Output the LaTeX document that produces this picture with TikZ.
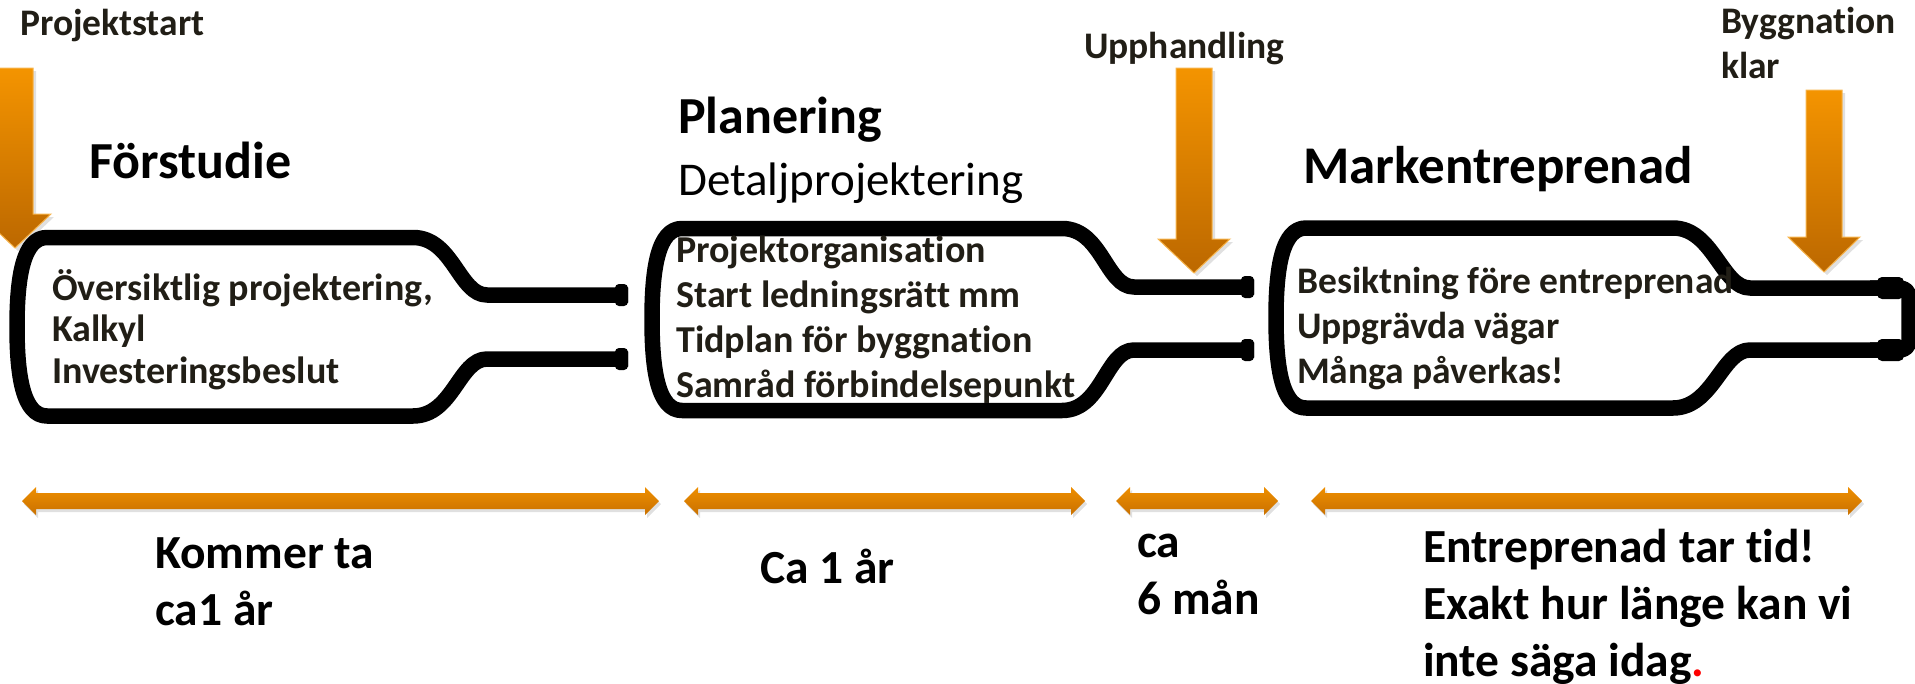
\documentclass[tikz,border=0pt]{standalone}
\usepackage{fontspec}
\setmainfont{Carlito}[Ligatures=NoCommon]

\definecolor{arrowtop}{RGB}{244,148,0}
\definecolor{arrowbot}{RGB}{188,104,0}
\definecolor{bartop}{RGB}{238,142,0}
\definecolor{barbot}{RGB}{201,113,0}
\definecolor{inktext}{RGB}{33,30,22}

\tikzset{
  bottleline/.style={line width=15.5pt, line join=round, draw=black},
  toplabel/.style={anchor=base west, inner sep=0pt, align=left, text=inktext,
    font=\fontsize{37.5}{45}\selectfont\bfseries},
  phase/.style={anchor=base west, inner sep=0pt, font=\fontsize{52}{62}\selectfont\bfseries},
  inbottle/.style={anchor=base west, inner sep=0pt, align=left, text=inktext,
    font=\fontsize{38}{44.7}\selectfont\bfseries},
  duration/.style={anchor=base west, inner sep=0pt, align=left,
    font=\fontsize{47.5}{57}\selectfont\bfseries},
  marker/.style={top color=arrowtop, bottom color=arrowbot, draw=arrowtop!70!white, line width=1pt},
  span/.style={top color=bartop, bottom color=barbot},
}

\newcommand{\bottle}[8]{%
  \draw[bottleline] (#8,#6) -- (#5,#6) .. controls (#5-28,#6) and (#4+40,#2) .. (#4,#2)
    -- (#1+30,#2) .. controls (#1+6,#2) and (#1,#2+40) .. (#1,{(#2+#3)/2})
    .. controls (#1,#3-40) and (#1+6,#3) .. (#1+30,#3)
    -- (#4,#3) .. controls (#4+40,#3) and (#5-28,#7) .. (#5,#7) -- (#8,#7);}
\newcommand{\bottlelip}[2]{\fill[rounded corners=4pt] (#1-13,#2-11) rectangle (#1,#2+11);}
\newcommand{\markerdown}[4]{%
  \fill[black, opacity=.12] (#1-15,#2+3) -- (#1+21,#2+3) -- (#1+21,#3+3) -- (#1+39,#3+3)
    -- (#1+3,#4+3) -- (#1-33,#3+3) -- (#1-15,#3+3) -- cycle;
  \shadedraw[marker] (#1-18,#2) -- (#1+18,#2) -- (#1+18,#3) -- (#1+36,#3) -- (#1,#4)
    -- (#1-36,#3) -- (#1-18,#3) -- cycle;}
\newcommand{\spanarrow}[3]{%
  \fill[black, opacity=.12] (#1+2,#3+3) -- (#1+16,#3-11) -- (#1+16,#3-5) -- (#2-12,#3-5)
    -- (#2-12,#3-11) -- (#2+2,#3+3) -- (#2-12,#3+17) -- (#2-12,#3+11) -- (#1+16,#3+11)
    -- (#1+16,#3+17) -- cycle;
  \shade[span] (#1,#3) -- (#1+14,#3-14) -- (#1+14,#3-8) -- (#2-14,#3-8) -- (#2-14,#3-14)
    -- (#2,#3) -- (#2-14,#3+14) -- (#2-14,#3+8) -- (#1+14,#3+8) -- (#1+14,#3+14) -- cycle;}

\begin{document}
\begin{tikzpicture}[x=1pt,y=-1pt]
  \useasboundingbox (0,0) rectangle (1915,683);

  \bottle{17}{237.5}{416}{413}{487}{295}{359}{628}
  \bottlelip{628}{295} \bottlelip{628}{359}
  \bottle{652}{228.5}{410.5}{1062}{1134}{287}{350}{1254}
  \bottlelip{1254}{287} \bottlelip{1254}{350}
  \bottle{1276}{228}{408}{1673}{1750}{288}{350}{1880}
  \draw[bottleline, rounded corners=9pt] (1870,288) -- (1909,288) -- (1909,350) -- (1870,350);
  \fill[rounded corners=5pt] (1877,277) rectangle (1904,299);
  \fill[rounded corners=5pt] (1877,339) rectangle (1904,361);

  \markerdown{15}{68}{214}{248}
  \markerdown{1194}{68}{239}{273}
  \markerdown{1824}{90}{237}{272}

  \spanarrow{22}{659}{501}
  \spanarrow{684}{1085}{501}
  \spanarrow{1116}{1278}{501}
  \spanarrow{1311}{1862}{501}

  \node[toplabel] (projektstart) at (20,35) {Projektstart};
  \node[toplabel] (upphandling) at (1084,58) {Upphandling};
  \node[toplabel] (byggnation) at (1721,78) {Byggnation\\klar};

  \node[phase] (forstudie) at (89,178) {Förstudie};
  \node[phase] (planering) at (678,133) {Planering};
  \node[phase, font=\fontsize{47}{56}\selectfont] (detalj) at (678,195) {Detaljprojektering};
  \node[phase, font=\fontsize{53}{62}\selectfont\bfseries] (mark) at (1303,183) {Markentreprenad};

  \node[inbottle, font=\fontsize{38}{41.5}\selectfont\bfseries] (forstudietext) at (52,383)
    {Översiktlig projektering,\\Kalkyl\\Investeringsbeslut};
  \node[inbottle] (planeringtext) at (676,397)
    {Projektorganisation\\Start ledningsrätt mm\\Tidplan för byggnation\\Samråd förbindelsepunkt};
  \node[inbottle, font=\fontsize{37.5}{45}\selectfont\bfseries] (marktext) at (1297,383)
    {Besiktning före entreprenad\\Uppgrävda vägar\\Många påverkas!};

  \node[duration] (tid1) at (155,625) {Kommer ta\\ca1 år};
  \node[duration] (tid2) at (760,583) {Ca 1 år};
  \node[duration] (tid3) at (1137,614) {ca\\6 mån};
  \node[duration] (tid4) at (1423,676) {Entreprenad tar tid!\\Exakt hur länge kan vi\\inte säga idag{\color{red}.}};
\end{tikzpicture}
\end{document}
